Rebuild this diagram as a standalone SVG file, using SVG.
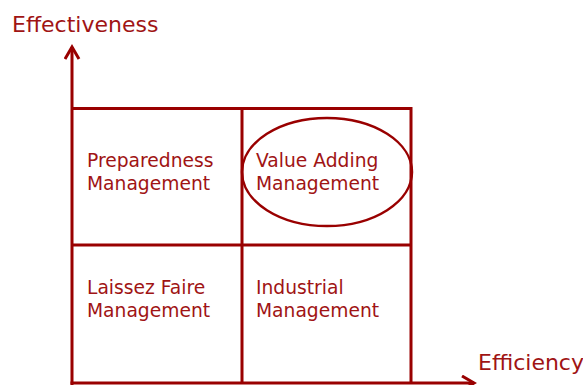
<svg xmlns="http://www.w3.org/2000/svg" width="583" height="385" viewBox="0 0 583 385">
<style>
.ln{stroke:#990000;stroke-width:3;fill:none}
.el{stroke:#990000;stroke-width:2.5;fill:none}
.t{font-family:"DejaVu Sans",Verdana,sans-serif;fill:#a01414}
.c{font-size:18.7px}
.ax{font-size:22px}
</style>
<defs>
<marker id="ah" markerWidth="16" markerHeight="18" refX="13" refY="8" orient="auto" markerUnits="userSpaceOnUse">
<path d="M1,1 L13,8 L1,15" stroke="#990000" stroke-width="3" fill="none"/>
</marker>
</defs>
<g id="connectors">
<line class="ln" x1="72" y1="385" x2="72" y2="47" marker-end="url(#ah)"/>
<line class="ln" x1="70.5" y1="383" x2="474" y2="383" marker-end="url(#ah)"/>
</g>
<g id="grid">
<line class="ln" x1="72" y1="108.5" x2="411" y2="108.5"/>
<line class="ln" x1="72" y1="245" x2="411" y2="245"/>
<line class="ln" x1="242" y1="108.5" x2="242" y2="383"/>
<line class="ln" x1="411" y1="107" x2="411" y2="383"/>
</g>
<g id="preparedness">
<text class="t c" x="87" y="167">Preparedness</text>
<text class="t c" x="87" y="190">Management</text>
</g>
<g id="value-adding">
<ellipse class="el" cx="327" cy="172" rx="85" ry="54"/>
<text class="t c" x="256" y="167">Value Adding</text>
<text class="t c" x="256" y="190">Management</text>
</g>
<g id="laissez-faire">
<text class="t c" x="87" y="294">Laissez Faire</text>
<text class="t c" x="87" y="317">Management</text>
</g>
<g id="industrial">
<text class="t c" x="256" y="294">Industrial</text>
<text class="t c" x="256" y="317">Management</text>
</g>
<g id="effectiveness-label">
<text class="t ax" x="12" y="32">Effectiveness</text>
</g>
<g id="efficiency-label">
<text class="t ax" x="478" y="370">Efficiency</text>
</g>
</svg>
